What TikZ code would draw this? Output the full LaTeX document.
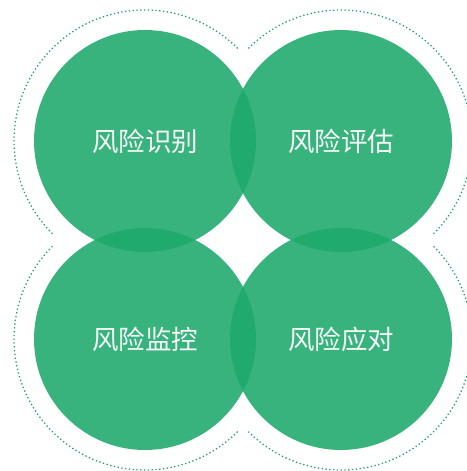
\documentclass[tikz,border=0pt]{standalone}
\usepackage{fontspec}
\newfontfamily\cjk{Noto Sans CJK SC}
\definecolor{riskgreen}{RGB}{28,169,108}
\definecolor{ringgreen}{RGB}{34,158,114}
\tikzset{
  riskcircle/.style={circle, draw=none, fill=riskgreen, fill opacity=0.88, text opacity=1,
    minimum size=222, inner sep=0pt, text={rgb,255:red,245;green,248;blue,246},
    font=\cjk\fontsize{26.5}{26.5}\selectfont},
  ringline/.style={color=ringgreen, line width=1.3pt, dash pattern={on 1.3pt off 2.5pt}}
}
\begin{document}
\begin{tikzpicture}[x=1pt,y=1pt,yscale=-1]
\useasboundingbox (0,0) rectangle (466,471);

%Centres
\coordinate (cTL) at (145,141);
\coordinate (cTR) at (341,141);
\coordinate (cBL) at (145,339);
\coordinate (cBR) at (341,339);

%Dotted outline [outer half circles]
\draw [ringline] (cTL) ++(-45:131) arc [start angle=-45, end angle=-225, radius=131];
\draw [ringline] (cTR) ++(-135:131) arc [start angle=-135, end angle=45, radius=131];
\draw [ringline] (cBR) ++(-45:131) arc [start angle=-45, end angle=135, radius=131];
\draw [ringline] (cBL) ++(45:131) arc [start angle=45, end angle=225, radius=131];

%Shape: Circle
\node [riskcircle] (identify) at (cTL) {风险识别};
%Shape: Circle
\node [riskcircle] (assess) at (cTR) {风险评估};
%Shape: Circle
\node [riskcircle] (monitor) at (cBL) {风险监控};
%Shape: Circle
\node [riskcircle] (respond) at (cBR) {风险应对};

\end{tikzpicture}
\end{document}
